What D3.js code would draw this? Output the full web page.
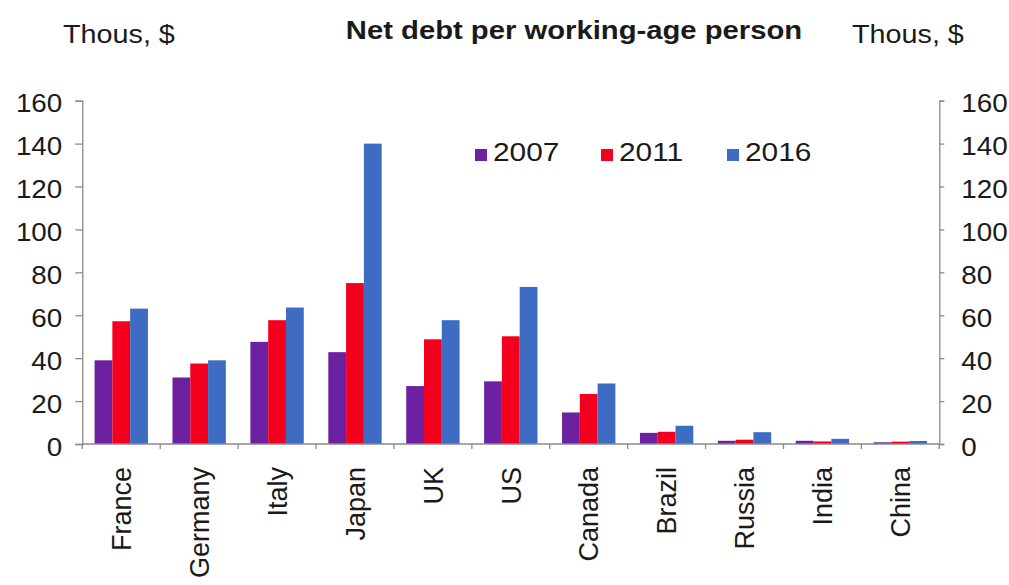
<!DOCTYPE html>
<html>
<head>
<meta charset="utf-8">
<script src="https://cdn.jsdelivr.net/npm/d3@7"></script>
<style>
  html, body { margin: 0; padding: 0; background: #ffffff; }
  svg { display: block; }
  text { font-family: "Liberation Sans", Arial, sans-serif; fill: #1a1a1a; }
</style>
</head>
<body>
<svg id="chart" width="1009" height="585"></svg>
<script>
// Net debt per working-age person, thousands of US dollars
const countries = ["France", "Germany", "Italy", "Japan", "UK", "US", "Canada", "Brazil", "Russia", "India", "China"];
const years = ["2007", "2011", "2016"];
const debt2007 = [39, 31, 47.6, 42.8, 27, 29.2, 14.7, 5.2, 1.5, 1.5, 0.8];
const debt2011 = [57.2, 37.5, 57.7, 75, 48.8, 50.2, 23.3, 5.7, 2.0, 1.2, 1.1];
const debt2016 = [63.1, 39, 63.6, 140, 57.7, 73.2, 28.2, 8.5, 5.5, 2.4, 1.4];
const yTicks = [0, 20, 40, 60, 80, 100, 120, 140, 160];
const unitLabel = "Thous, $";
const title = "Net debt per working-age person";

const seriesValues = [debt2007, debt2011, debt2016];
const colors = ["#6c22a0", "#f2001e", "#3e6cc3"];

const svg = d3.select("#chart");

const plotLeft = 82.3, plotRight = 939.3, plotTop = 100.7, plotBottom = 444;

const x = d3.scaleBand().domain(countries).range([plotLeft, plotRight]).padding(0);
const xi = d3.scaleBand().domain(years).range([0, x.bandwidth()]).paddingInner(0).paddingOuter(0.69);
const y = d3.scaleLinear().domain([0, 160]).range([plotBottom, plotTop]);

// bars
const rows = countries.map((c, i) => ({ country: c, values: years.map((yr, k) => ({ year: yr, k, v: seriesValues[k][i] })) }));
const groups = svg.append("g").selectAll("g").data(rows).join("g")
  .attr("transform", d => `translate(${x(d.country)},0)`);
groups.selectAll("rect").data(d => d.values).join("rect")
  .attr("x", d => xi(d.year))
  .attr("width", xi.bandwidth())
  .attr("y", d => y(d.v))
  .attr("height", d => y(0) - y(d.v))
  .attr("fill", d => colors[d.k]);

const axisColor = "#8a8a8a";

// left axis
const leftAxis = svg.append("g").attr("transform", `translate(${plotLeft},0)`)
  .call(d3.axisLeft(y).tickValues(yTicks).tickSize(7).tickPadding(13).tickFormat(d3.format("d")));
// right axis
const rightAxis = svg.append("g").attr("transform", `translate(${plotRight},0)`)
  .call(d3.axisRight(y).tickValues(yTicks).tickSize(5).tickPadding(17).tickFormat(d3.format("d")));

[leftAxis, rightAxis].forEach(g => {
  g.select(".domain").attr("stroke", axisColor).attr("stroke-width", 1.3);
  g.selectAll(".tick line").attr("stroke", axisColor).attr("stroke-width", 1.3);
  g.selectAll(".tick text")
    .attr("font-size", 26).attr("font-family", null).attr("fill", "#1a1a1a")
    .attr("dy", "0.43em")
    .each(function () {
      const t = d3.select(this); const tx = +t.attr("x");
      t.attr("x", 0).attr("transform", `translate(${tx},0) scale(1.07,1)`);
    });
});

// category axis
svg.append("line")
  .attr("x1", plotLeft).attr("x2", plotRight).attr("y1", y(0)).attr("y2", y(0))
  .attr("stroke", axisColor).attr("stroke-width", 1.3);
const boundaries = countries.map(c => x(c)).concat([x.range()[1]]);
svg.append("g").selectAll("line").data(boundaries).join("line")
  .attr("x1", d => d).attr("x2", d => d)
  .attr("y1", y(0)).attr("y2", y(0) + 5)
  .attr("stroke", axisColor).attr("stroke-width", 1.3);

svg.append("g").selectAll("text").data(countries).join("text")
  .attr("transform", d => `translate(${x(d) + x.bandwidth() / 2},467) rotate(-90)`)
  .attr("text-anchor", "end")
  .attr("dy", "0.36em")
  .attr("font-size", 27)
  .text(d => d);

// headings
function stretchedText(px, py, str, opts) {
  return svg.append("text")
    .attr("transform", `translate(${px},${py}) scale(${opts.sx},1)`)
    .attr("text-anchor", opts.anchor || "start")
    .attr("font-size", opts.size)
    .attr("font-weight", opts.weight || "normal")
    .text(str);
}
stretchedText(63, 43, unitLabel, { sx: 1.15, size: 25 });
stretchedText(852, 43, unitLabel, { sx: 1.15, size: 25 });
stretchedText(574, 39, title, { sx: 1.17, size: 25, weight: "bold", anchor: "middle" });

// legend
const legendX = [475, 601, 727];
const legend = svg.append("g").selectAll("g").data(years).join("g")
  .attr("transform", (d, i) => `translate(${legendX[i]},149)`);
legend.append("rect").attr("width", 12).attr("height", 12).attr("fill", (d, i) => colors[i]);
legend.append("text")
  .attr("transform", "translate(18,11.5) scale(1.17,1)")
  .attr("font-size", 25.5)
  .text(d => d);
</script>
</body>
</html>
